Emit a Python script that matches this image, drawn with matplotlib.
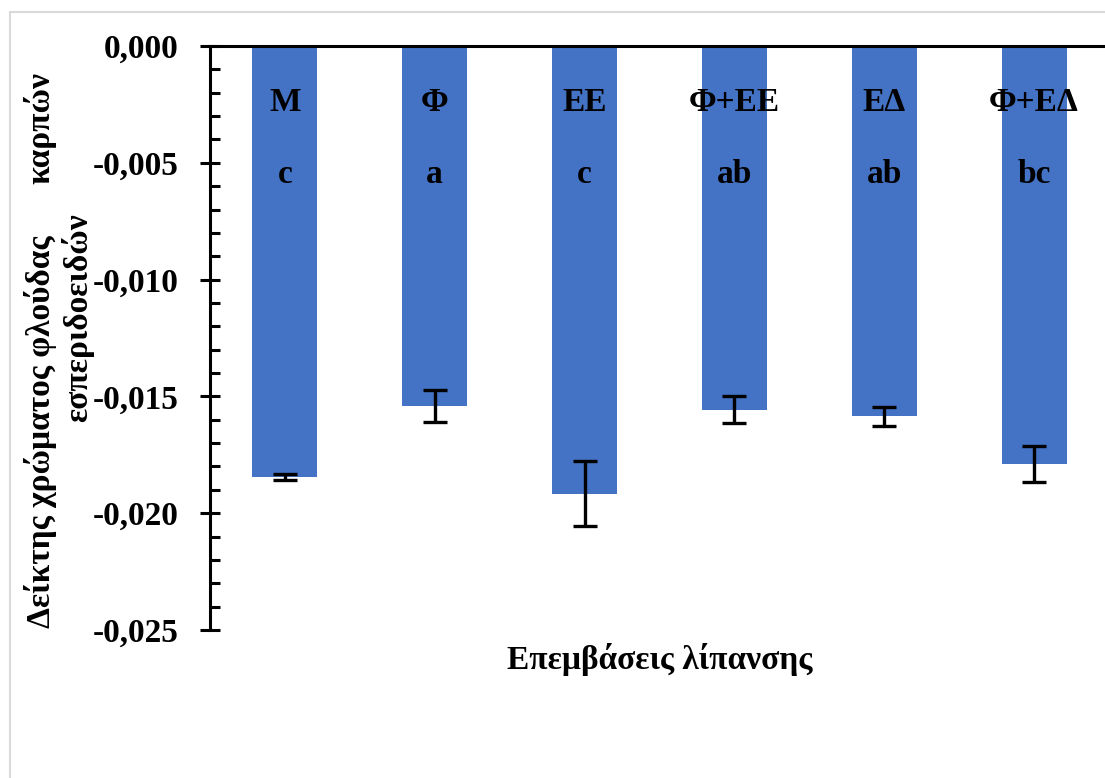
import matplotlib
matplotlib.use("Agg")
import matplotlib.pyplot as plt
from matplotlib.ticker import MultipleLocator, FuncFormatter
from matplotlib.patches import Rectangle

plt.rcParams["font.family"] = ["Liberation Serif", "DejaVu Serif"]
plt.rcParams["font.weight"] = "bold"

# ── data ──────────────────────────────────────────────────────────────────────
treatments = ["Μ", "Φ", "ΕΕ", "Φ+ΕΕ", "ΕΔ", "Φ+ΕΔ"]
letters    = ["c", "a", "c", "ab", "ab", "bc"]
means      = [-0.01845, -0.01541, -0.01916, -0.01558, -0.01585, -0.01789]
errors     = [0.00013, 0.00070, 0.00140, 0.00058, 0.00040, 0.00076]

BAR_COLOR = "#4472C4"
FS = 24

W, H = 1105, 778
fig = plt.figure(figsize=(W / 100, H / 100), dpi=100)

# light frame of the chart area (right/bottom edges cut off in the original)
fig.patches.append(Rectangle((10 / W, 0 - 0.01), 1.1, 1 - 12 / H + 0.01,
                             transform=fig.transFigure, fill=False,
                             edgecolor="#d9d9d9", lw=1.5))

ax = fig.add_axes([210 / W, 1 - 630 / H, 899 / W, (630 - 46) / H])
x = range(len(treatments))
ax.bar(x, means, width=0.433, color=BAR_COLOR, zorder=2)
ax.errorbar(x, means, yerr=errors, fmt="none", ecolor="black",
            elinewidth=2.4, capsize=8.5, capthick=2.4, zorder=3)

for i, (name, let) in enumerate(zip(treatments, letters)):
    ax.text(i, -0.0024, name, ha="center", va="center", fontsize=FS,
            fontweight="bold", zorder=4)
    ax.text(i, -0.0055, let, ha="center", va="center", fontsize=FS,
            fontweight="bold", zorder=4)

ax.set_xlim(-0.5, 5.5)
ax.set_ylim(-0.025, 0)
ax.yaxis.set_major_locator(MultipleLocator(0.005))
ax.yaxis.set_minor_locator(MultipleLocator(0.001))
ax.yaxis.set_major_formatter(
    FuncFormatter(lambda v, _: f"{v:.3f}".replace(".", ",").replace("-0,000", "0,000")))
ax.tick_params(axis="y", which="major", direction="inout", length=15, width=2.2,
               labelsize=FS, pad=15)
ax.tick_params(axis="y", which="minor", direction="in", length=7, width=2.2)
ax.set_xticks([])
for lab in ax.get_yticklabels():
    lab.set_fontweight("bold")

ax.spines["bottom"].set_visible(False)
ax.spines["right"].set_visible(False)
ax.spines["left"].set_linewidth(2.2)
ax.spines["top"].set_linewidth(2.2)
ax.spines["left"].set_zorder(5)

# axis titles
fig.text(660 / W, 1 - 660 / H, "Επεμβάσεις λίπανσης", ha="center", va="center",
         fontsize=FS, fontweight="bold")
fig.text(40 / W, 1 - 628 / H, "Δείκτης χρώματος φλούδας", rotation=90,
         rotation_mode="anchor", ha="left", va="center", fontsize=FS,
         fontweight="bold")
fig.text(40 / W, 1 - 72 / H, "καρπών", rotation=90, rotation_mode="anchor",
         ha="right", va="center", fontsize=FS, fontweight="bold")
fig.text(78 / W, 1 - 318 / H, "εσπεριδοειδών", rotation=90,
         rotation_mode="anchor", ha="center", va="center", fontsize=FS,
         fontweight="bold")

fig.savefig("out.png", dpi=100)
